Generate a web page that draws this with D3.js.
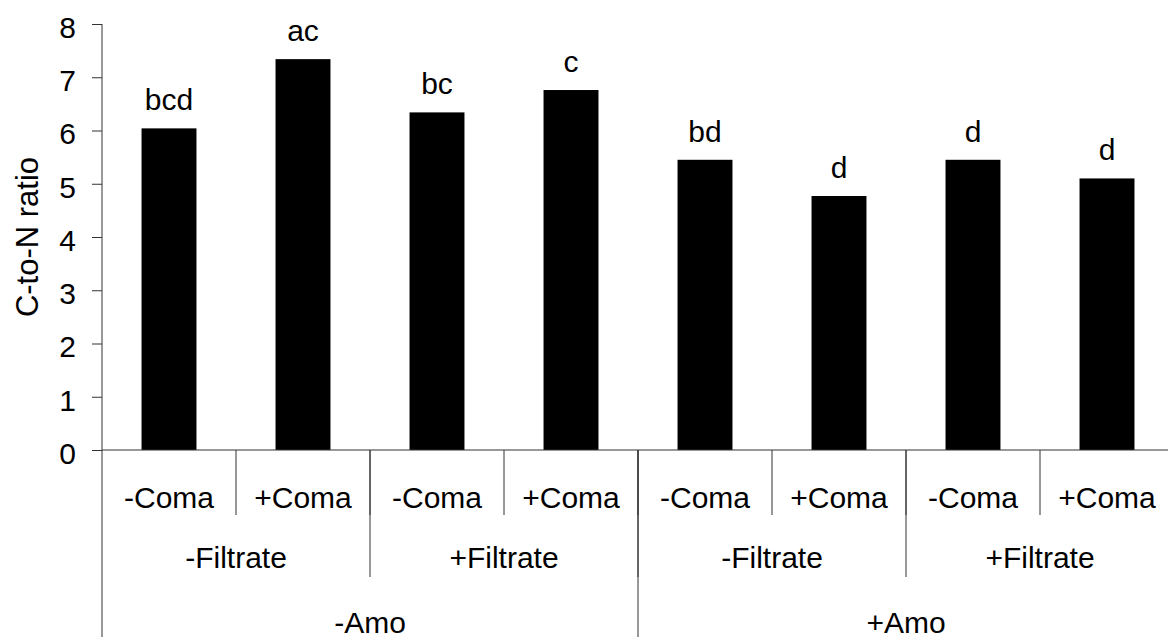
<!DOCTYPE html>
<html>
<head>
<meta charset="utf-8">
<script src="https://cdn.jsdelivr.net/npm/d3@7"></script>
<style>
  body { margin: 0; background: #fff; }
  svg { display: block; }
  text { font-family: Arial, "Liberation Sans", sans-serif; fill: #000; }
</style>
</head>
<body>
<div id="chart"></div>
<script>
// Data
const comaLabels = ["-Coma", "+Coma", "-Coma", "+Coma", "-Coma", "+Coma", "-Coma", "+Coma"];
const filtrateLabels = ["-Filtrate", "+Filtrate", "-Filtrate", "+Filtrate"];
const amoLabels = ["-Amo", "+Amo"];
const ratios = [6.04, 7.34, 6.34, 6.76, 5.45, 4.77, 5.45, 5.10];
const letters = ["bcd", "ac", "bc", "c", "bd", "d", "d", "d"];
const yTicks = [0, 1, 2, 3, 4, 5, 6, 7, 8];

const width = 1168, height = 637;
const fontSize = 30;
const axisX = 102, baseY = 450, topY = 24;
const plotRight = axisX + 8 * 134;

const svg = d3.select("#chart")
    .append("svg")
    .attr("width", width)
    .attr("height", height);

const slots = d3.range(comaLabels.length);

// bars are centred in equal slots: paddingOuter = paddingInner / 2
const x = d3.scaleBand()
    .domain(slots)
    .range([axisX, plotRight])
    .paddingInner(0.59)
    .paddingOuter(0.295);

const step = x.step();

const y = d3.scaleLinear()
    .domain([0, 8])
    .range([baseY, topY]);

// Bars
svg.selectAll(".bar")
    .data(ratios)
    .join("rect")
    .attr("class", "bar")
    .attr("x", (d, i) => x(i))
    .attr("y", d => y(d))
    .attr("width", x.bandwidth())
    .attr("height", d => y(0) - y(d))
    .attr("fill", "#000");

// Significance letters
svg.selectAll(".letter")
    .data(ratios)
    .join("text")
    .attr("class", "letter")
    .attr("x", (d, i) => x(i) + x.bandwidth() / 2)
    .attr("y", d => y(d) - 18)
    .attr("text-anchor", "middle")
    .style("font-size", fontSize + "px")
    .text((d, i) => letters[i]);

// Y axis
const yAxis = svg.append("g")
    .attr("transform", `translate(${axisX},0)`)
    .call(d3.axisLeft(y).tickValues(yTicks).tickSize(10).tickPadding(16).tickFormat(d3.format("d")));
yAxis.select(".domain").remove();
yAxis.selectAll("line").attr("stroke", "#333");
yAxis.selectAll("text")
    .attr("dy", "0.72em")
    .attr("y", -8.3)
    .style("font-size", fontSize + "px")
    .style("font-family", "Arial, 'Liberation Sans', sans-serif");

// axis lines
svg.append("line")
    .attr("x1", axisX).attr("x2", axisX)
    .attr("y1", topY).attr("y2", height)
    .attr("stroke", "#333");
svg.append("line")
    .attr("x1", axisX).attr("x2", width)
    .attr("y1", baseY).attr("y2", baseY)
    .attr("stroke", "#333");

// Y title
svg.append("text")
    .attr("transform", `translate(38,${(baseY + topY) / 2}) rotate(-90)`)
    .attr("text-anchor", "middle")
    .style("font-size", "31px")
    .text("C-to-N ratio");

// Hierarchical category axis
const levels = [
    { labels: comaLabels, baseline: 508, sepBottom: 515 },
    { labels: filtrateLabels, baseline: 568, sepBottom: 577 },
    { labels: amoLabels, baseline: 633, sepBottom: height }
];

levels.forEach(level => {
    const span = comaLabels.length / level.labels.length;
    const g = svg.append("g");
    g.selectAll("text")
        .data(level.labels)
        .join("text")
        .attr("x", (d, i) => axisX + (i + 0.5) * span * step)
        .attr("y", level.baseline)
        .attr("text-anchor", "middle")
        .style("font-size", fontSize + "px")
        .text(d => d);
    // separators between groups of this level
    g.selectAll("line")
        .data(d3.range(1, level.labels.length))
        .join("line")
        .attr("x1", i => axisX + i * span * step)
        .attr("x2", i => axisX + i * span * step)
        .attr("y1", baseY)
        .attr("y2", level.sepBottom)
        .attr("stroke", "#333");
});
</script>
</body>
</html>
